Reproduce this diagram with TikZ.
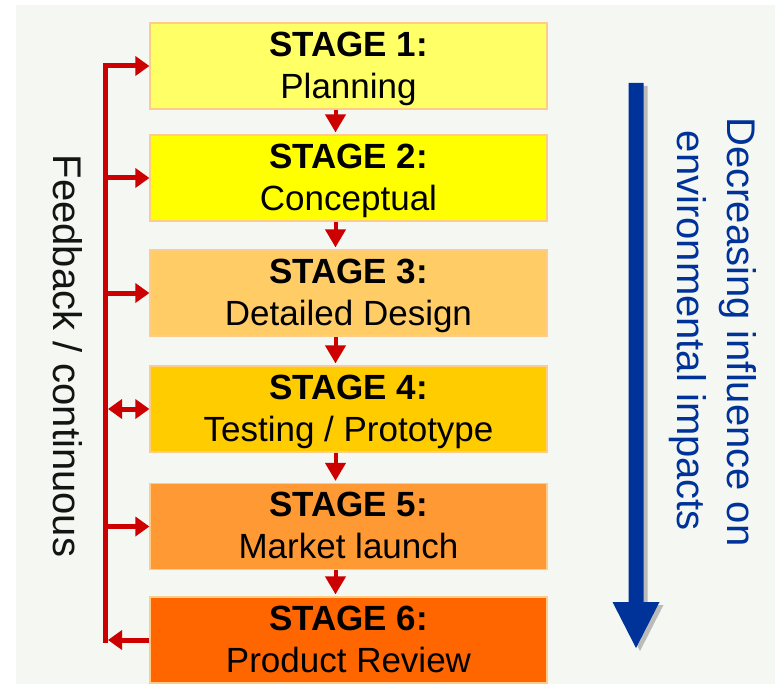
\documentclass[tikz,border=0pt]{standalone}
\usepackage{fontspec}
\setmainfont{Liberation Sans}
\usetikzlibrary{arrows.meta,calc}

\definecolor{bgpaper}{HTML}{F5F7F2}
\definecolor{stageA}{HTML}{FFFF66}
\definecolor{stageB}{HTML}{FFFF00}
\definecolor{stageC}{HTML}{FFCC66}
\definecolor{stageD}{HTML}{FFCC00}
\definecolor{stageE}{HTML}{FF9933}
\definecolor{stageF}{HTML}{FF6600}
\definecolor{edgeorange}{HTML}{FFCC88}
\definecolor{flowred}{HTML}{CC0000}
\definecolor{impactblue}{HTML}{003399}

\tikzset{fbhead/.tip={Triangle[width=19pt,length=14pt]}}

\begin{document}
\begin{tikzpicture}[x=1pt,y=-1pt,
  stagebox/.style={rectangle, draw=edgeorange, line width=1.2pt,
    minimum width=397pt, minimum height=86pt, inner sep=0pt},
  stagetitle/.style={anchor=base, inner sep=0pt,
    font=\fontsize{35}{42}\selectfont\bfseries},
  stagename/.style={anchor=base, inner sep=0pt,
    font=\fontsize{35}{42}\selectfont},
  nextstage/.style={draw=flowred, line width=4pt,
    -{Triangle[width=20pt,length=18pt]}, shorten >=2pt},
  fbline/.style={draw=flowred, line width=5pt, line join=miter},
  sidetext/.style={rotate=-90, anchor=base, inner sep=0pt,
    font=\fontsize{40}{48}\selectfont}
]
% page and backdrop
\useasboundingbox (0,0) rectangle (775,684);
\fill[white] (0,0) rectangle (775,684);
\fill[bgpaper] (16,5) rectangle (775,684);

% the six stages
\node[stagebox, fill=stageA] (s1) at (348.5,66) {};
\node[stagebox, fill=stageB] (s2) at (348.5,178) {};
\node[stagebox, fill=stageC] (s3) at (348.5,293) {};
\node[stagebox, fill=stageD] (s4) at (348.5,409) {};
\node[stagebox, fill=stageE] (s5) at (348.5,526.5) {};
\node[stagebox, fill=stageF] (s6) at (348.5,640) {};

\node[stagetitle] (t1) at ($(s1.north)+(0,34)$) {STAGE 1:};
\node[stagename]  (n1) at ($(s1.north)+(0,76)$) {Planning};
\node[stagetitle] (t2) at ($(s2.north)+(0,34)$) {STAGE 2:};
\node[stagename]  (n2) at ($(s2.north)+(0,76)$) {Conceptual};
\node[stagetitle] (t3) at ($(s3.north)+(0,34)$) {STAGE 3:};
\node[stagename]  (n3) at ($(s3.north)+(0,76)$) {Detailed Design};
\node[stagetitle] (t4) at ($(s4.north)+(0,34)$) {STAGE 4:};
\node[stagename]  (n4) at ($(s4.north)+(0,76)$) {Testing / Prototype};
\node[stagetitle] (t5) at ($(s5.north)+(0,34)$) {STAGE 5:};
\node[stagename]  (n5) at ($(s5.north)+(0,76)$) {Market launch};
\node[stagetitle] (t6) at ($(s6.north)+(0,34)$) {STAGE 6:};
\node[stagename]  (n6) at ($(s6.north)+(0,76)$) {Product Review};

% stage-to-stage arrows
\draw[nextstage] ([xshift=-13pt]s1.south) -- ([xshift=-13pt]s2.north);
\draw[nextstage] ([xshift=-13pt]s2.south) -- ([xshift=-13pt]s3.north);
\draw[nextstage] ([xshift=-13pt]s3.south) -- ([xshift=-13pt]s4.north);
\draw[nextstage] ([xshift=-13pt]s4.south) -- ([xshift=-13pt]s5.north);
\draw[nextstage] ([xshift=-13pt]s5.south) -- ([xshift=-13pt]s6.north);

% feedback rail
\coordinate (fb) at (105.5,0);
\draw[fbline, -{fbhead}] ($(fb |- s6.west)+(0,2.5)$) -- (fb |- s1.west) -- (s1.west);
\draw[fbline, -{fbhead}] (fb |- s2.west) -- (s2.west);
\draw[fbline, -{fbhead}] (fb |- s3.west) -- (s3.west);
\draw[fbline, {fbhead}-{fbhead}] ($(fb |- s4.west)+(2.5,0)$) -- (s4.west);
\draw[fbline, -{fbhead}] (fb |- s5.west) -- (s5.west);
\draw[fbline, -{fbhead}] (s6.west) -- ($(fb |- s6.west)+(2.5,0)$);

\node[sidetext, text=black!92] (fbtext) at (53,356) {Feedback / continuous};

% decreasing-influence arrow with its soft shadow
\fill[black!45, opacity=0.55, shift={(4,3)}]
  (628.5,83) -- (643.5,83) -- (643.5,602) -- (659.5,602) -- (636,648)
  -- (612.5,602) -- (628.5,602) -- cycle;
\fill[impactblue]
  (628.5,83) -- (643.5,83) -- (643.5,602) -- (659.5,602) -- (636,648)
  -- (612.5,602) -- (628.5,602) -- cycle;

\node[sidetext, text=impactblue] (imp1) at (727,332) {Decreasing influence on};
\node[sidetext, text=impactblue] (imp2) at (677,331) {environmental impacts};
\end{tikzpicture}
\end{document}
